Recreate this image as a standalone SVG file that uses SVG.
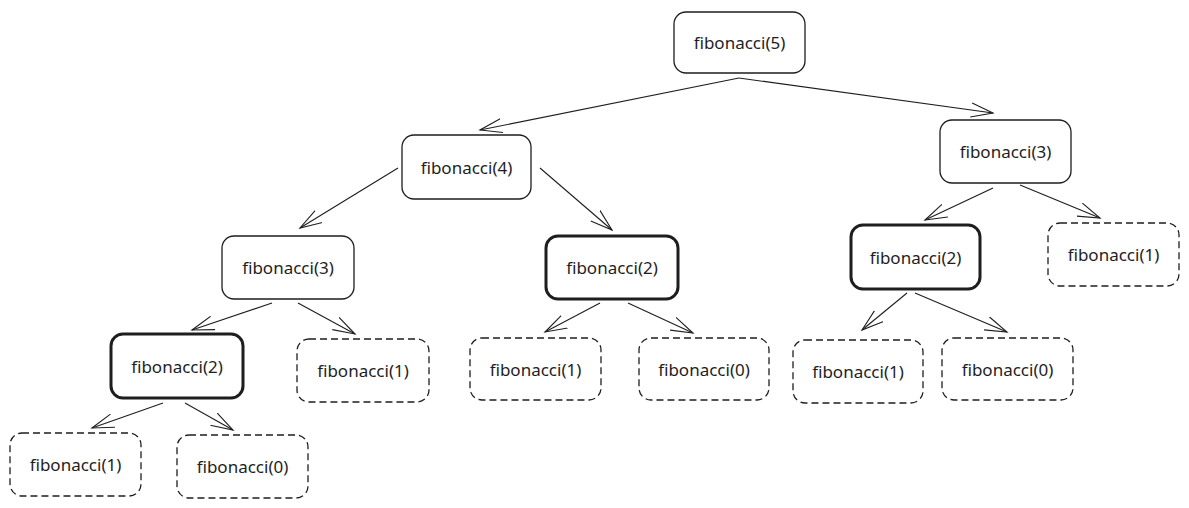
<svg xmlns="http://www.w3.org/2000/svg" width="1189" height="508" viewBox="0 0 1189 508">
<style>
rect{fill:#fff;stroke:#1e1e1e;stroke-width:1.3}
.t{stroke-width:3}
.d{stroke-dasharray:7 4}
text{font-family:"Noto Sans","Liberation Sans",sans-serif;font-size:17px;fill:#1e1e1e;text-anchor:middle;dominant-baseline:central}
.c line{stroke:#1e1e1e;stroke-width:1.1;marker-end:url(#a)}
</style>
<defs><marker id="a" markerWidth="24" markerHeight="16" refX="22" refY="8" orient="auto" markerUnits="userSpaceOnUse"><path d="M0,1 L22,8 L0,15" fill="none" stroke="#1e1e1e" stroke-width="1.1"/></marker></defs>
<rect width="1189" height="508" style="stroke:none"/>
<g class="c">
<line x1="739" y1="78" x2="480" y2="130"/>
<line x1="739" y1="78" x2="993" y2="113"/>
<line x1="398" y1="168" x2="300" y2="228"/>
<line x1="540" y1="168" x2="612" y2="230"/>
<line x1="993" y1="188" x2="925" y2="220"/>
<line x1="1020" y1="185" x2="1100" y2="218"/>
<line x1="272" y1="303" x2="192" y2="330"/>
<line x1="298" y1="303" x2="355" y2="334"/>
<line x1="600" y1="303" x2="545" y2="332"/>
<line x1="628" y1="303" x2="693" y2="333"/>
<line x1="907" y1="293" x2="862" y2="330"/>
<line x1="915" y1="293" x2="1007" y2="332"/>
<line x1="163" y1="403" x2="92" y2="428"/>
<line x1="185" y1="403" x2="233" y2="430"/>
</g>
<g id="n5"><rect x="674" y="12" width="131" height="61" rx="12"/><text x="739.5" y="42.5">fibonacci(5)</text></g>
<g id="n4"><rect x="402" y="135" width="129" height="64" rx="12"/><text x="466.5" y="167">fibonacci(4)</text></g>
<g id="n3r"><rect x="940" y="120" width="131" height="63" rx="12"/><text x="1005.5" y="151.5">fibonacci(3)</text></g>
<g id="n3l"><rect x="222" y="236" width="132" height="63" rx="12"/><text x="288" y="267.5">fibonacci(3)</text></g>
<g id="n2m"><rect class="t" x="546" y="236" width="132" height="63" rx="12"/><text x="612" y="267.5">fibonacci(2)</text></g>
<g id="n2r"><rect class="t" x="851" y="225" width="129" height="64" rx="12"/><text x="915.5" y="257">fibonacci(2)</text></g>
<g id="n1rr"><rect class="d" x="1048" y="223" width="131" height="63" rx="12"/><text x="1113.5" y="254.5">fibonacci(1)</text></g>
<g id="n2l"><rect class="t" x="111" y="334" width="132" height="64" rx="12"/><text x="177" y="366">fibonacci(2)</text></g>
<g id="n1a"><rect class="d" x="297" y="339" width="132" height="63" rx="12"/><text x="363" y="370.5">fibonacci(1)</text></g>
<g id="n1b"><rect class="d" x="470" y="338" width="131" height="62" rx="12"/><text x="535.5" y="369">fibonacci(1)</text></g>
<g id="n0b"><rect class="d" x="639" y="338" width="130" height="62" rx="12"/><text x="704" y="369">fibonacci(0)</text></g>
<g id="n1c"><rect class="d" x="793" y="340" width="130" height="63" rx="12"/><text x="858" y="371.5">fibonacci(1)</text></g>
<g id="n0c"><rect class="d" x="942" y="338" width="131" height="62" rx="12"/><text x="1007.5" y="369">fibonacci(0)</text></g>
<g id="n1d"><rect class="d" x="10" y="433" width="131" height="63" rx="12"/><text x="75.5" y="464.5">fibonacci(1)</text></g>
<g id="n0d"><rect class="d" x="177" y="435" width="131" height="63" rx="12"/><text x="242.5" y="466.5">fibonacci(0)</text></g>
</svg>
